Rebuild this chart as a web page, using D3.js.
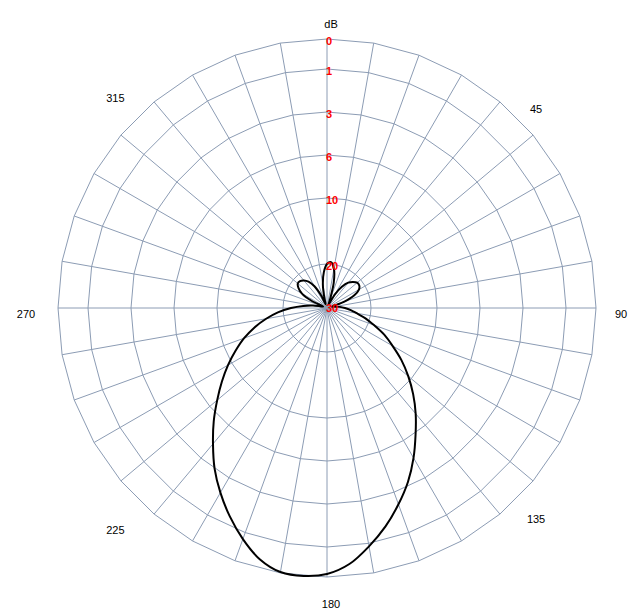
<!DOCTYPE html>
<html>
<head>
<meta charset="utf-8">
<script src="https://cdn.jsdelivr.net/npm/d3@7"></script>
<style>
  html, body { margin: 0; padding: 0; background: #ffffff; }
  svg { display: block; }
</style>
</head>
<body>
<svg id="chart" width="641" height="614"></svg>
<script>
// ---- data ----
const spokeAngles = [0,10,20,30,40,50,60,70,80,90,100,110,120,130,140,150,160,170,
                     180,190,200,210,220,230,240,250,260,270,280,290,300,310,320,330,340,350];
const ringTicks = [0, 1, 3, 6, 10, 20, 30];
const angleLabelAngles = [0, 45, 90, 135, 180, 225, 270, 315];
const angleLabelTexts  = ["dB", "45", "90", "135", "180", "225", "270", "315"];

const patternAngles = [0,5,10,15,20,25,30,35,40,45,50,55,60,65,70,75,80,85,
                       90,95,100,105,110,115,120,125,130,135,140,145,150,155,160,165,170,175,
                       180,185,190,195,200,205,210,215,220,225,230,235,240,245,250,255,260,265,
                       270,275,280,285,290,295,300,305,310,315,320,325,330,335,340,345,350,355];
const patternDb = [20.0,19.7,21.0,24.3,28.6,29.5,26.8,24.3,22.6,21.7,21.1,21.1,21.7,23.3,26.2,29.3,28.6,27.4,
                   26.2,24.8,23.3,21.0,19.1,17.1,15.2,12.9,10.6,8.9,7.4,5.9,4.6,3.3,2.4,1.6,0.9,0.4,
                   0.1,0.0,0.03,0.3,0.77,1.42,2.2,3.0,4.3,5.5,6.9,8.3,9.6,11.4,13.3,15.3,17.3,19.2,
                   21.9,24.8,27.1,29.0,29.5,26.4,23.6,22.2,21.4,21.4,21.9,22.8,24.5,27.2,29.5,28.1,24.8,21.9];

// ---- layout ----
const W = 641, H = 614;
const cx = 327, cy = 308;
const gridColor = "#8c9cb4";

const svg = d3.select("#chart");
const g = svg.append("g").attr("transform", `translate(${cx},${cy})`);

// radial scale (dB, reversed: 0 dB outside, 30 dB at the centre)
const r = d3.scaleLinear()
  .domain(ringTicks)
  .range([269, 239, 196, 153, 110, 44, 2]);

const rad = d => d * Math.PI / 180;

// rings as polygons joining the spokes
const ringLine = d3.lineRadial()
  .angle(a => rad(a))
  .curve(d3.curveLinearClosed);

g.append("g").selectAll("path")
  .data(ringTicks)
  .join("path")
  .attr("d", t => ringLine.radius(() => r(t))(spokeAngles))
  .attr("fill", "none")
  .attr("stroke", gridColor)
  .attr("stroke-width", 1);

// spokes
g.append("g").selectAll("line")
  .data(spokeAngles)
  .join("line")
  .attr("x1", 0).attr("y1", 0)
  .attr("x2", a => r(0) * Math.sin(rad(a)))
  .attr("y2", a => -r(0) * Math.cos(rad(a)))
  .attr("stroke", gridColor)
  .attr("stroke-width", 1);

// pattern
const pattern = patternAngles.map((a, i) => ({ a, v: patternDb[i] }));
const patLine = d3.lineRadial()
  .angle(d => rad(d.a))
  .radius(d => r(d.v))
  .curve(d3.curveCatmullRomClosed.alpha(0.5));

g.append("path")
  .datum(pattern)
  .attr("d", patLine)
  .attr("fill", "none")
  .attr("stroke", "#000000")
  .attr("stroke-width", 2)
  .attr("stroke-linejoin", "round");

// radial tick labels (red)
g.append("g").selectAll("text")
  .data(ringTicks)
  .join("text")
  .attr("x", -1)
  .attr("y", t => -r(t) + 1.5)
  .attr("dominant-baseline", "central")
  .attr("font-family", "Liberation Sans, Arial, sans-serif")
  .attr("font-weight", "bold")
  .attr("font-size", 11)
  .attr("fill", "#ff0000")
  .text(t => t);

// angle labels
g.append("g").selectAll("text")
  .data(angleLabelAngles)
  .join("text")
  .attr("x", (a) => {
    const s = Math.sin(rad(a));
    const L = s < -0.5 ? 305 : 290;
    return 4 + L * s;
  })
  .attr("y", (a) => {
    const s = Math.sin(rad(a));
    const L = s < -0.5 ? 305 : 290;
    return 6 - L * Math.cos(rad(a));
  })
  .attr("text-anchor", "middle")
  .attr("dominant-baseline", "central")
  .attr("font-family", "Liberation Sans, Arial, sans-serif")
  .attr("font-size", 11)
  .attr("fill", "#000000")
  .text((a, i) => angleLabelTexts[i]);
</script>
</body>
</html>
